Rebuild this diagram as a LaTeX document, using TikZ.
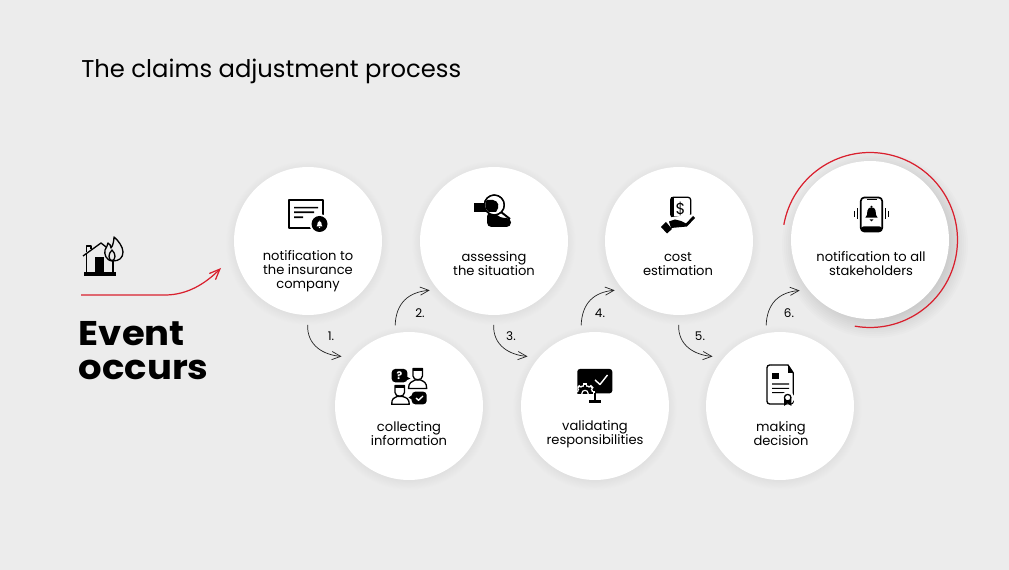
\documentclass[tikz,border=0pt]{standalone}
\usepackage{fontspec}
\setmainfont{Poppins}
\newfontfamily\headfont[FakeStretch=1.08]{Poppins Bold}
\usetikzlibrary{arrows.meta}
\definecolor{pagegray}{HTML}{ECECEC}
\definecolor{markred}{HTML}{D9202E}
\newcommand{\softshadow}[5]{\foreach \k in {0,1,...,11}{\fill[black,opacity=#5] (#1,#2) circle ({#3+#4*\k/11});}}
\tikzset{
  stepcircle/.style={draw=none,fill=white,circle,inner sep=0pt,outer sep=0pt,minimum size=2.96cm},
  bigcircle/.style={stepcircle,minimum size=3.16cm},
  steplabel/.style={align=center,inner sep=0pt,font=\fontsize{7.45}{7.95}\selectfont},
  numlabel/.style={inner sep=0pt,font=\fontsize{6.8}{8}\selectfont},
  flow/.style={draw=black!85,line width=.4pt,looseness=1.25,-{Straight Barb[length=5pt,width=6.5pt,angle'=50]}},
  redflow/.style={draw=markred,line width=.7pt},
  icon/.style={line width=.75pt,line join=round},
  bellshape/.pic={
    \fill (0,-8.6) circle (1.2);
    \fill (-1.5,-7.8) .. controls (-4.6,-6.8) and (-4.6,-3) .. (-4.8,0) -- (-6.5,2.8) -- (6.5,2.8) -- (4.8,0) .. controls (4.6,-3) and (4.6,-6.8) .. (1.5,-7.8) -- cycle;
    \fill (-2,4.6) -- (2,4.6) -- (0,6.8) -- cycle;
  }
}
\begin{document}
\begin{tikzpicture}[x=0.02cm,y=-0.02cm]
  \useasboundingbox (0,0) rectangle (1009,570);
  \fill[pagegray] (0,0) rectangle (1009,570);
  \node[anchor=west,inner sep=0pt,font=\fontsize{13.8}{16}\selectfont] (title) at (81,71) {The claims adjustment process};

  \foreach \cx/\cy in {308/243,494/243,679/243,409/408,595/408,780/408}{\softshadow{\cx}{\cy}{73}{9}{0.005}}
  \softshadow{875}{245}{72}{21}{0.010}

  \node[stepcircle] (n1) at (308,241) {};
  \node[stepcircle] (n2) at (409,406) {};
  \node[stepcircle] (n3) at (494,241) {};
  \node[stepcircle] (n4) at (595,406) {};
  \node[stepcircle] (n5) at (679,241) {};
  \node[stepcircle] (n6) at (780,406) {};
  \node[bigcircle] (n7) at (870,240) {};
  \draw[redflow] (n7.center) ++(170:1.75cm) arc[start angle=170,end angle=-100,radius=1.75cm];

  \node[steplabel] (t1) at (308,271) {notification to\\the insurance\\company};
  \node[steplabel] (t2) at (409,434) {collecting\\information};
  \node[steplabel] (t3) at (494,264) {assessing\\the situation};
  \node[steplabel] (t4) at (595,434) {validating\\responsibilities};
  \node[steplabel] (t5) at (678,264) {cost\\estimation};
  \node[steplabel] (t6) at (781,434) {making\\decision};
  \node[steplabel] (t7) at (871,264) {notification to all\\stakeholders};

  \draw[flow,shorten <=10*0.02cm,shorten >=11.7*0.02cm] (n1.270) to[out=-92,in=175] (n2.139.6);
  \draw[flow,shorten <=8*0.02cm,shorten >=8.5*0.02cm] (n2.101) to[out=88,in=185] (n3.221.4);
  \draw[flow,shorten <=10*0.02cm,shorten >=11.7*0.02cm] (n3.270) to[out=-92,in=175] (n4.139.6);
  \draw[flow,shorten <=8*0.02cm,shorten >=8.5*0.02cm] (n4.101) to[out=88,in=185] (n5.221.4);
  \draw[flow,shorten <=10*0.02cm,shorten >=11.7*0.02cm] (n5.270) to[out=-92,in=175] (n6.139.6);
  \draw[flow,shorten <=8*0.02cm,shorten >=9*0.02cm] (n6.101) to[out=88,in=185] (n7.219.4);

  \node[numlabel] (k1) at (331,336) {1.};
  \node[numlabel] (k2) at (420,313) {2.};
  \node[numlabel] (k3) at (511,336) {3.};
  \node[numlabel] (k4) at (600,313) {4.};
  \node[numlabel] (k5) at (700,336) {5.};
  \node[numlabel] (k6) at (789,313) {6.};

  \coordinate (evstart) at (81,295);
  \coordinate (evend) at (221,268);
  \draw[redflow,-{Straight Barb[length=6pt,width=12pt,angle'=45]}] (evstart) -- (165,295) .. controls (188,295) and (206,283) .. (evend);
  \node[anchor=north west,align=left,inner sep=0pt,font=\headfont\fontsize{19.5}{19.3}\selectfont] (event) at (78.5,321) {Event\\occurs};

  % house
  \begin{scope}[icon]
    \fill (84,272.5) rectangle (116,276);
    \draw (83,256) -- (101,243) -- (108,248.5);
    \draw (86.5,254) -- (86.5,272.5) (113,260) -- (113,272.5);
    \draw (86.5,252) -- (86.5,246) -- (91,246) -- (91,249);
    \fill (95,257) rectangle (104,272.5);
    \draw[fill=pagegray] (113,261) .. controls (106,261) and (104,254) .. (105,250) .. controls (106,247) and (108,246) .. (108,243) .. controls (110,244) and (111,246) .. (111,248) .. controls (113,246) and (114,240) .. (114,237) .. controls (118,240) and (123,247) .. (123,252) .. controls (123,258) and (119,261) .. (113,261) -- cycle;
    \draw (112,261) .. controls (108,259) and (108,254) .. (112,250) .. controls (116,254) and (116,259) .. (112,261);
  \end{scope}

  % notification document
  \begin{scope}[icon]
    \draw (289,200) rectangle (323,228);
    \fill (294,206.9) rectangle (318,208.5) (294,211.5) rectangle (314,213.1) (294,216.5) rectangle (303,218.1);
    \fill[white] (319.5,224) circle (10);
    \fill (319.5,224) circle (8);
    \pic[white,scale=.45] at (319.5,225) {bellshape};
  \end{scope}

  % magnifier
  \begin{scope}[icon]
    \fill (474,203) rectangle (486,212);
    \fill[rounded corners=2.5pt] (487,212) -- (487,227) -- (511,227) -- (511,218) -- (500,218) -- (494,212) -- cycle;
    \draw[line width=1.1pt] (501,212) -- (510,219);
    \draw[fill=white] (494.3,205) circle (10);
    \begin{scope}
      \clip (494.3,205) circle (9);
      \fill (482,200) -- (493,200) .. controls (499,201) and (500,207) .. (496,212) -- (482,212) -- cycle;
    \end{scope}
    \draw (494.3,205) circle (10);
  \end{scope}

  % cost
  \begin{scope}[icon]
    \draw[fill=white,rounded corners=1.5pt] (670.7,197.3) rectangle (690.7,217);
    \fill (670.7,197.3) rectangle (674,218);
    \node[inner sep=0pt,font=\fontsize{9}{10}\selectfont] (dollar) at (680.5,208.5) {\$};
    \fill[white] (666,218) -- (695,214) -- (695,228) -- (668,230) -- cycle;
    \fill (669,221.5) -- (675,219.5) -- (681,221) -- (686,223.5) -- (693,216) -- (695,218) -- (687,226.5) -- (671,228) -- cycle;
    \fill (661,227) -- (666,222) -- (672,229) -- (667,233.5) -- cycle;
  \end{scope}

  % phone
  \begin{scope}[icon]
    \draw[line width=.95pt,rounded corners=2pt] (860.8,197.5) rectangle (882.2,231.5);
    \fill[rounded corners=1.5pt] (860.8,226.5) rectangle (882.2,231.5);
    \fill (866.5,199) rectangle (876.5,200.5);
    \pic[scale=.95] at (871.5,215) {bellshape};
    \draw (854.3,211) -- (854.3,217) (857.3,208.5) -- (857.3,219.5);
    \draw (885.5,208.5) -- (885.5,219.5) (888.5,211) -- (888.5,217);
  \end{scope}

  % collecting
  \begin{scope}[icon]
    \fill[rounded corners=2pt] (391.7,369) rectangle (407.3,382.3);
    \fill (405,376) -- (410.5,378.5) -- (405,381) -- cycle;
    \node[white,inner sep=0pt,font=\bfseries\fontsize{6}{7}\selectfont] (ask) at (399.5,375.7) {?};
    \draw[fill=white] (413,368.5) -- (422.5,368.5) -- (422.5,376) .. controls (422.5,381) and (413,381) .. (413,376) -- cycle;
    \fill (413,368.5) rectangle (422.5,371);
    \draw (408.5,388.5) .. controls (408.5,382.5) and (412,381.5) .. (415,380) -- (420.5,380) .. controls (424,381.5) and (426.7,382.5) .. (426.7,388.5) -- cycle;
    \draw[fill=white] (395,385.5) -- (404.5,385.5) -- (404.5,392.5) .. controls (404.5,397.5) and (395,397.5) .. (395,392.5) -- cycle;
    \fill (395,385.5) rectangle (404.5,388);
    \draw (391.7,404.3) .. controls (391.7,398.5) and (394,397.5) .. (397,396.5) -- (402.5,396.5) .. controls (406,397.5) and (409.3,398.5) .. (409.3,404.3) -- cycle;
    \fill[rounded corners=2pt] (411.7,391.7) rectangle (426.7,404.3);
    \fill (412.5,395) -- (408.5,397.5) -- (412.5,400) -- cycle;
    \draw[white] (416,398) -- (418.5,400.3) -- (423,396);
  \end{scope}

  % validating
  \begin{scope}[icon]
    \fill[rounded corners=1.5pt] (577.3,369) rectangle (612.3,393.3);
    \draw[white,line width=.8pt] (595,380) -- (600,384.5) -- (607.5,375);
    \begin{scope}
      \clip (577.3,369) rectangle (612.3,393.3);
      \foreach \a in {0,45,...,315}{\draw[white,line width=2.4pt] (585,393.5) -- ++(\a:0.205cm);}
      \fill[white] (585,393.5) circle (8.5);
      \foreach \a in {0,45,...,315}{\draw[line width=1.2pt] (585,393.5) -- ++(\a:0.165cm);}
      \fill (585,393.5) circle (7);
      \fill[white] (585,393.5) circle (3.8);
      \fill (585,393.5) circle (2.4);
    \end{scope}
    \draw[line width=1pt] (595,393.3) -- (595,401.5);
    \draw[line width=1.4pt] (589,401.5) -- (601,401.5);
  \end{scope}

  % decision
  \begin{scope}[icon]
    \draw[rounded corners=1.5pt] (771,365) -- (767,365) -- (767,404) -- (793.3,404) -- (793.3,373);
    \draw (771,365) -- (788,365) -- (793.3,373);
    \fill (788,365) -- (793.3,373) -- (788,373) -- cycle;
    \fill (772.3,373.3) rectangle (779,379.3);
    \fill (772,383.5) rectangle (789,384.6) (772,387.8) rectangle (789,388.9) (772,392.1) rectangle (789,393.2);
    \fill[white] (787.7,398) circle (6.5);
    \fill (784,399) -- (784,406) -- (787.7,403.5) -- (791.4,406) -- (791.4,399) -- cycle;
    \draw[fill=white] (787.7,397.7) circle (3.3);
  \end{scope}
\end{tikzpicture}
\end{document}
